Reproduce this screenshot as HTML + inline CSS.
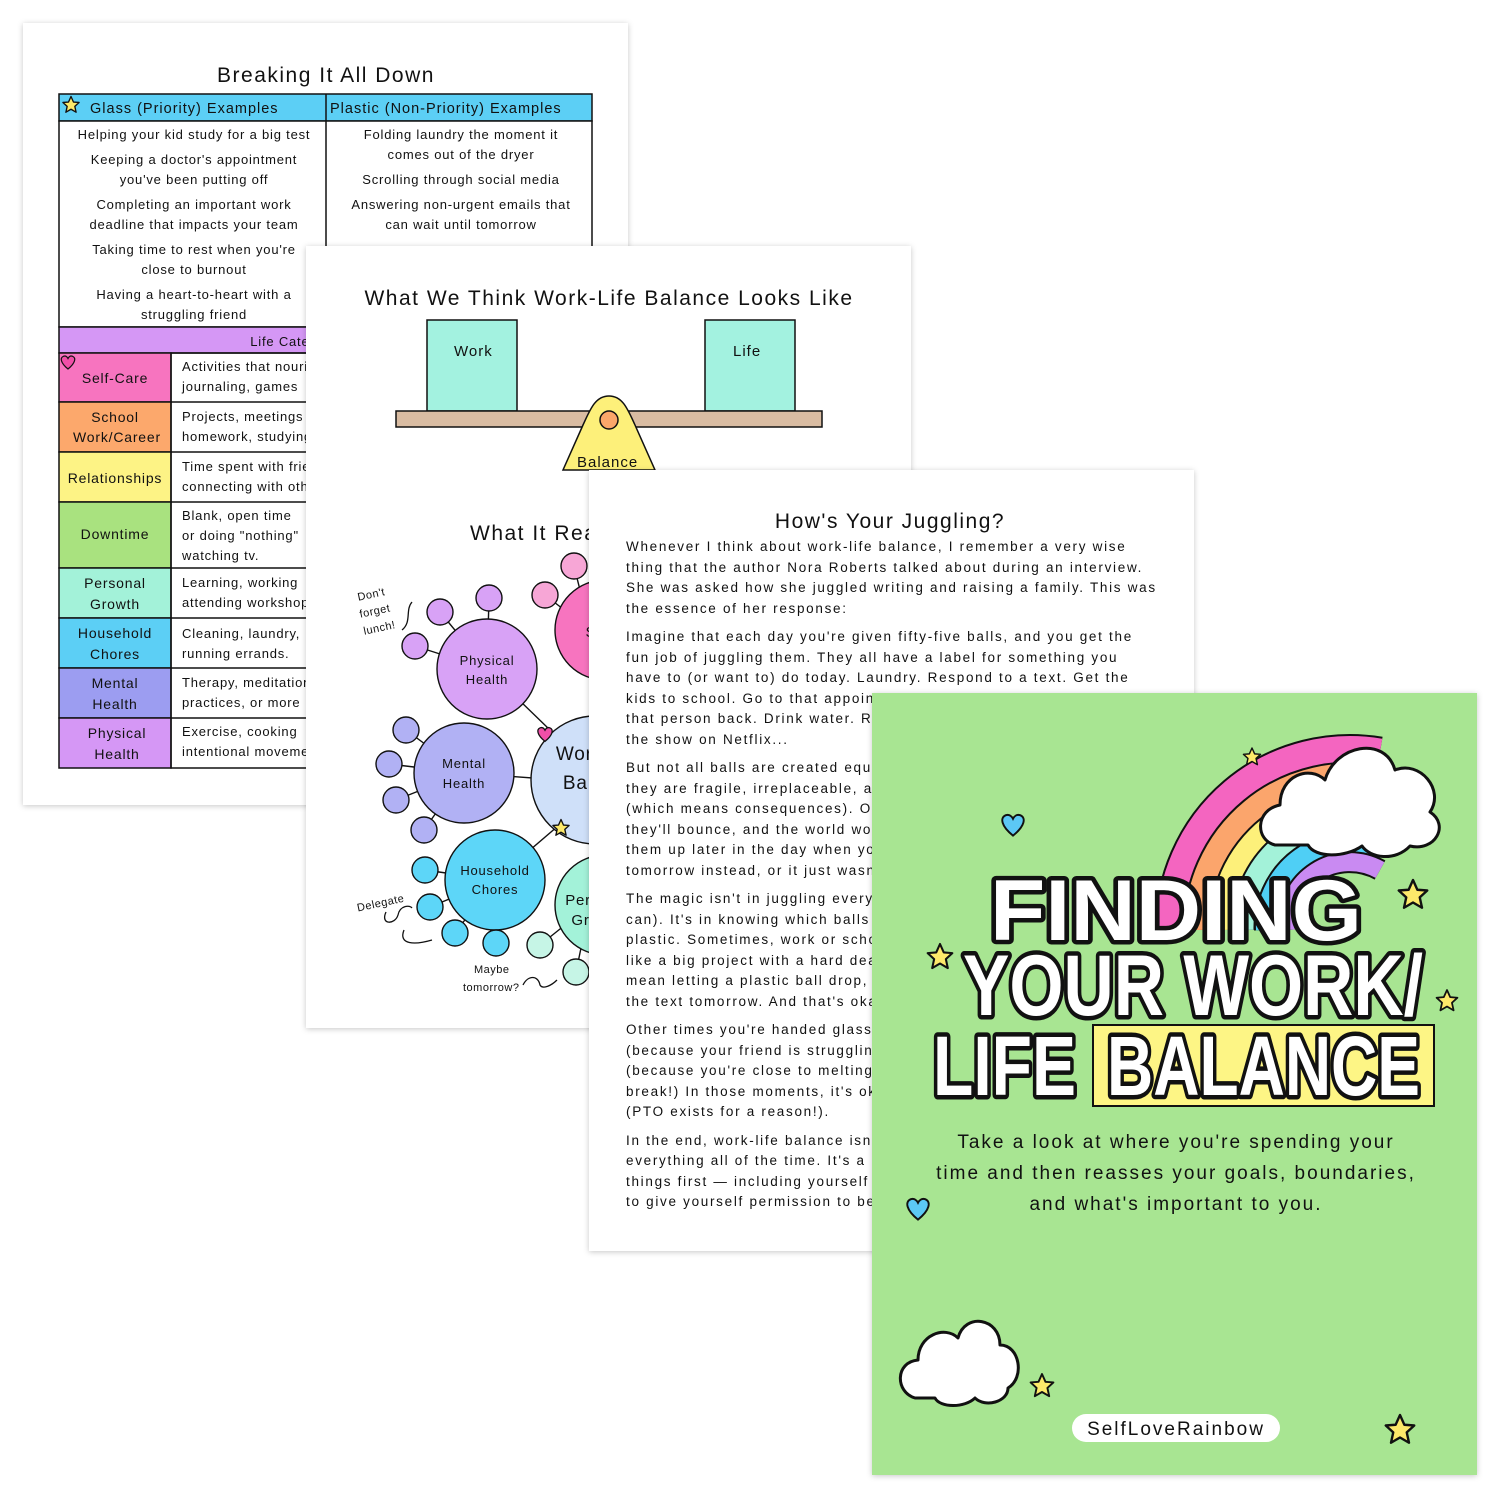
<!DOCTYPE html>
<html><head><meta charset="utf-8"><style>
html,body{margin:0;padding:0;background:#fff;}
svg{display:block;font-family:"Liberation Sans",sans-serif;}
</style></head><body>
<svg width="1500" height="1500" viewBox="0 0 1500 1500" xmlns="http://www.w3.org/2000/svg">
<defs>
<filter id="sh" x="-5%" y="-5%" width="110%" height="110%"><feDropShadow dx="0" dy="1" stdDeviation="3" flood-color="#000" flood-opacity="0.22"/></filter>
<g id="star"><path d="M0,-10 L2.9,-3.5 L9.5,-3 L4.5,1.6 L6,8.5 L0,5 L-6,8.5 L-4.5,1.6 L-9.5,-3 L-2.9,-3.5 Z" fill="#fde96a" stroke="#111" stroke-width="1.6" stroke-linejoin="round"/></g>
<g id="heart"><path d="M0,8 C-10,0 -11,-7 -6,-9 C-3,-10 -1,-8 0,-6 C1,-8 3,-10 6,-9 C11,-7 10,0 0,8Z" stroke="#111" stroke-width="1.6"/></g>
</defs>

<!-- PAGE 1 -->
<rect x="23" y="23" width="605" height="782" fill="#fff" filter="url(#sh)"/>
<text x="326" y="82" font-size="21" text-anchor="middle" letter-spacing="1.5" fill="#111">Breaking It All Down</text>
<g stroke="#111" stroke-width="1.5">
<rect x="59" y="94" width="533" height="27" fill="#5ccff5"/>
<rect x="59" y="121" width="533" height="206" fill="#fff"/>
<line x1="326" y1="94" x2="326" y2="327"/>
<rect x="59" y="327" width="533" height="26" fill="#d597f5"/>
<rect x="59" y="353" width="112" height="49" fill="#f774bf"/>
<rect x="59" y="402" width="112" height="50" fill="#fca86c"/>
<rect x="59" y="452" width="112" height="50" fill="#fdf385"/>
<rect x="59" y="502" width="112" height="66" fill="#a9e27f"/>
<rect x="59" y="568" width="112" height="50" fill="#a3f2d9"/>
<rect x="59" y="618" width="112" height="50" fill="#5ccff5"/>
<rect x="59" y="668" width="112" height="50" fill="#9c9df1"/>
<rect x="59" y="718" width="112" height="50" fill="#d597f5"/>
<rect x="171" y="353" width="421" height="415" fill="none"/>
<line x1="171" y1="402" x2="592" y2="402"/><line x1="171" y1="452" x2="592" y2="452"/>
<line x1="171" y1="502" x2="592" y2="502"/><line x1="171" y1="568" x2="592" y2="568"/>
<line x1="171" y1="618" x2="592" y2="618"/><line x1="171" y1="668" x2="592" y2="668"/>
<line x1="171" y1="718" x2="592" y2="718"/>
</g>
<use href="#star" transform="translate(71,105) scale(0.85)"/>
<use href="#heart" transform="translate(68,363) scale(0.75)" fill="#f04fa8"/>
<g font-size="14.5" fill="#111" letter-spacing="1">
<text x="90" y="113">Glass (Priority) Examples</text>
<text x="330" y="113">Plastic (Non-Priority) Examples</text>
</g>
<g font-size="13" fill="#111" text-anchor="middle" letter-spacing="0.8">
<text x="194" y="139">Helping your kid study for a big test</text>
<text x="194" y="164">Keeping a doctor's appointment</text>
<text x="194" y="184">you've been putting off</text>
<text x="194" y="209">Completing an important work</text>
<text x="194" y="229">deadline that impacts your team</text>
<text x="194" y="254">Taking time to rest when you're</text>
<text x="194" y="274">close to burnout</text>
<text x="194" y="299">Having a heart-to-heart with a</text>
<text x="194" y="319">struggling friend</text>
<text x="461" y="139">Folding laundry the moment it</text>
<text x="461" y="159">comes out of the dryer</text>
<text x="461" y="184">Scrolling through social media</text>
<text x="461" y="209">Answering non-urgent emails that</text>
<text x="461" y="229">can wait until tomorrow</text>
<text x="300" y="346">Life Categories</text>
</g>
<g font-size="14" fill="#111" text-anchor="middle" letter-spacing="0.8">
<text x="115" y="383">Self-Care</text>
<text x="115" y="422">School</text><text x="117" y="442">Work/Career</text>
<text x="115" y="483">Relationships</text>
<text x="115" y="539">Downtime</text>
<text x="115" y="588">Personal</text><text x="115" y="609">Growth</text>
<text x="115" y="638">Household</text><text x="115" y="659">Chores</text>
<text x="115" y="688">Mental</text><text x="115" y="709">Health</text>
<text x="117" y="738">Physical</text><text x="117" y="759">Health</text>
</g>
<g font-size="13" fill="#111" letter-spacing="0.8">
<text x="182" y="371">Activities that nourish you like</text><text x="182" y="391">journaling, games</text>
<text x="182" y="421">Projects, meetings</text><text x="182" y="441">homework, studying</text>
<text x="182" y="471">Time spent with friends</text><text x="182" y="491">connecting with others</text>
<text x="182" y="520">Blank, open time</text><text x="182" y="540">or doing "nothing"</text><text x="182" y="560">watching tv.</text>
<text x="182" y="587">Learning, working</text><text x="182" y="607">attending workshops</text>
<text x="182" y="638">Cleaning, laundry,</text><text x="182" y="658">running errands.</text>
<text x="182" y="687">Therapy, meditation</text><text x="182" y="707">practices, or more</text>
<text x="182" y="736">Exercise, cooking</text><text x="182" y="756">intentional movement</text>
</g>

<!-- PAGE 2 -->
<rect x="306" y="246" width="605" height="782" fill="#fff" filter="url(#sh)"/>
<text x="609" y="305" font-size="21" text-anchor="middle" letter-spacing="1.5" fill="#111">What We Think Work-Life Balance Looks Like</text>
<g stroke="#111" stroke-width="1.5">
<rect x="427" y="320" width="90" height="91" fill="#a3f2e0"/>
<rect x="705" y="320" width="90" height="91" fill="#a3f2e0"/>
<rect x="396" y="411" width="426" height="16" fill="#d9bca2"/>
<path d="M609,396 C595,396 590,410 583,425 L563,470 L655,470 L635,425 C628,410 623,396 609,396Z" fill="#fdf07a"/>
<circle cx="609" cy="420" r="9" fill="#fba76a"/>
</g>
<g font-size="15" fill="#111" letter-spacing="1">
<text x="454" y="356">Work</text><text x="733" y="356">Life</text>
<text x="577" y="467">Balance</text>
</g>
<text x="470" y="540" font-size="21" letter-spacing="1.5" fill="#111">What It Really Looks Like</text>
<!-- mind map -->
<g stroke="#111" stroke-width="1.4">
<line x1="487" y1="669" x2="489" y2="598"/><line x1="487" y1="669" x2="440" y2="612"/><line x1="487" y1="669" x2="415" y2="646"/>
<line x1="487" y1="669" x2="550" y2="730"/>
<line x1="464" y1="773" x2="406" y2="730"/><line x1="464" y1="773" x2="389" y2="764"/><line x1="464" y1="773" x2="396" y2="800"/><line x1="464" y1="773" x2="424" y2="830"/>
<line x1="464" y1="773" x2="560" y2="780"/>
<line x1="495" y1="880" x2="425" y2="870"/><line x1="495" y1="880" x2="430" y2="907"/><line x1="495" y1="880" x2="455" y2="933"/><line x1="495" y1="880" x2="496" y2="943"/>
<line x1="495" y1="880" x2="565" y2="820"/>
<line x1="590" y1="630" x2="574" y2="566"/><line x1="590" y1="630" x2="545" y2="595"/>
<line x1="590" y1="905" x2="540" y2="945"/><line x1="590" y1="905" x2="576" y2="972"/>
<circle cx="595" cy="780" r="64" fill="#cfe0f9"/>
<circle cx="605" cy="630" r="50" fill="#f774bf"/>
<circle cx="605" cy="905" r="50" fill="#a3f2d9"/>
<circle cx="487" cy="669" r="50" fill="#d8a2f6"/>
<circle cx="464" cy="773" r="50" fill="#b1b1f4"/>
<circle cx="495" cy="880" r="50" fill="#5dd6f8"/>
<g fill="#d8a2f6"><circle cx="489" cy="598" r="13"/><circle cx="440" cy="612" r="13"/><circle cx="415" cy="646" r="13"/></g>
<g fill="#b1b1f4"><circle cx="406" cy="730" r="13"/><circle cx="389" cy="764" r="13"/><circle cx="396" cy="800" r="13"/><circle cx="424" cy="830" r="13"/></g>
<g fill="#5dd6f8"><circle cx="425" cy="870" r="13"/><circle cx="430" cy="907" r="13"/><circle cx="455" cy="933" r="13"/><circle cx="496" cy="943" r="13"/></g>
<g fill="#f7a6d6"><circle cx="574" cy="566" r="13"/><circle cx="545" cy="595" r="13"/></g>
<g fill="#c6f5e6"><circle cx="540" cy="945" r="13"/><circle cx="576" cy="972" r="13"/></g>
</g>
<use href="#heart" transform="translate(545,735) scale(0.8)" fill="#f04fa8"/>
<use href="#star" transform="translate(561,828) scale(0.85)"/>
<g font-size="13" fill="#111" text-anchor="middle" letter-spacing="0.8">
<text x="487" y="665">Physical</text><text x="487" y="684">Health</text>
<text x="464" y="768">Mental</text><text x="464" y="788">Health</text>
<text x="495" y="875">Household</text><text x="495" y="894">Chores</text>
<text x="600" y="637" font-size="15">Self</text>
<text x="600" y="760" font-size="19">Work-Life</text><text x="600" y="789" font-size="19">Balance</text>
<text x="598" y="905" font-size="15">Personal</text><text x="598" y="925" font-size="15">Growth</text>
</g>
<g font-size="11" fill="#111" letter-spacing="0.5">
<text x="358" y="597" transform="rotate(-12 376 597)">Don't</text>
<text x="360" y="614" transform="rotate(-12 378 614)">forget</text>
<text x="364" y="631" transform="rotate(-12 382 631)">lunch!</text>
<text x="356" y="906" transform="rotate(-12 383 900)">Delegate</text>
<text x="474" y="973">Maybe</text><text x="463" y="991">tomorrow?</text>
</g>
<g fill="none" stroke="#111" stroke-width="1.3">
<path d="M402,630 C412,622 405,610 412,602"/>
<path d="M386,912 C380,925 395,925 398,915 C400,905 410,905 412,908"/>
<path d="M404,930 C398,945 415,945 432,940"/>
<path d="M523,985 C528,975 538,975 540,985 C543,990 552,985 557,980"/>
</g>

<!-- PAGE 3 -->
<rect x="589" y="470" width="605" height="781" fill="#fff" filter="url(#sh)"/>
<text x="890" y="528" font-size="21" text-anchor="middle" letter-spacing="1.5" fill="#111">How's Your Juggling?</text>
<g font-size="13.5" fill="#111" letter-spacing="1.7">
<text x="626" y="551">Whenever I think about work-life balance, I remember a very wise</text>
<text x="626" y="572">thing that the author Nora Roberts talked about during an interview.</text>
<text x="626" y="592">She was asked how she juggled writing and raising a family. This was</text>
<text x="626" y="613">the essence of her response:</text>
<text x="626" y="641">Imagine that each day you're given fifty-five balls, and you get the</text>
<text x="626" y="662">fun job of juggling them. They all have a label for something you</text>
<text x="626" y="682">have to (or want to) do today. Laundry. Respond to a text. Get the</text>
<text x="626" y="703">kids to school. Go to that appointment. Call</text>
<text x="626" y="723">that person back. Drink water. Re</text>
<text x="626" y="744">the show on Netflix...</text>
<text x="626" y="772">But not all balls are created equal.</text>
<text x="626" y="793">they are fragile, irreplaceable, and</text>
<text x="626" y="813">(which means consequences). Others</text>
<text x="626" y="834">they'll bounce, and the world won't</text>
<text x="626" y="854">them up later in the day when you</text>
<text x="626" y="875">tomorrow instead, or it just wasn't</text>
<text x="626" y="903">The magic isn't in juggling every</text>
<text x="626" y="924">can). It's in knowing which balls</text>
<text x="626" y="944">plastic. Sometimes, work or school</text>
<text x="626" y="965">like a big project with a hard deadline</text>
<text x="626" y="985">mean letting a plastic ball drop,</text>
<text x="626" y="1006">the text tomorrow. And that's okay</text>
<text x="626" y="1034">Other times you're handed glass</text>
<text x="626" y="1055">(because your friend is struggling</text>
<text x="626" y="1075">(because you're close to melting</text>
<text x="626" y="1096">break!) In those moments, it's ok</text>
<text x="626" y="1116">(PTO exists for a reason!).</text>
<text x="626" y="1145">In the end, work-life balance isn't</text>
<text x="626" y="1165">everything all of the time. It's a</text>
<text x="626" y="1186">things first — including yourself</text>
<text x="626" y="1206">to give yourself permission to be</text>
</g>

<!-- PAGE 4 COVER -->
<rect x="872" y="693" width="605" height="782" fill="#a8e592" filter="url(#sh)"/>
<g fill="none" stroke-linecap="butt">
<path d="M1170,930 A180,180 0 0 1 1380,752" stroke="#111" stroke-width="31"/>
<path d="M1170,930 A180,180 0 0 1 1380,752" stroke="#f465c0" stroke-width="27"/>
<path d="M1196,930 A154,154 0 0 1 1380,778" stroke="#111" stroke-width="27"/>
<path d="M1196,930 A154,154 0 0 1 1380,778" stroke="#fba56c" stroke-width="23"/>
<path d="M1220,930 A130,130 0 0 1 1380,802" stroke="#111" stroke-width="25"/>
<path d="M1220,930 A130,130 0 0 1 1380,802" stroke="#fdf07a" stroke-width="21"/>
<path d="M1243,930 A107,107 0 0 1 1380,825" stroke="#111" stroke-width="25"/>
<path d="M1243,930 A107,107 0 0 1 1380,825" stroke="#a3f2d9" stroke-width="21"/>
<path d="M1266,930 A84,84 0 0 1 1380,848" stroke="#111" stroke-width="24"/>
<path d="M1266,930 A84,84 0 0 1 1380,848" stroke="#4fcff5" stroke-width="20"/>
<path d="M1288,930 A62,62 0 0 1 1380,870" stroke="#111" stroke-width="22"/>
<path d="M1288,930 A62,62 0 0 1 1380,870" stroke="#c98af2" stroke-width="18"/>
</g>
<path d="M1275,845 C1255,840 1255,810 1280,805 C1280,775 1310,765 1325,780 C1335,745 1385,735 1395,770 C1420,760 1445,790 1430,812 C1450,825 1435,852 1410,846 C1395,862 1370,858 1362,846 C1345,858 1315,858 1308,845 Z" fill="#fff" stroke="#111" stroke-width="3" stroke-linejoin="round"/>
<path d="M915,1398 C895,1392 895,1362 918,1360 C918,1335 945,1325 958,1338 C965,1312 1000,1318 1000,1345 C1020,1345 1025,1378 1008,1388 C1008,1402 985,1408 975,1398 C965,1408 940,1408 935,1398 Z" fill="#fff" stroke="#111" stroke-width="3" stroke-linejoin="round"/>
<g font-weight="bold" fill="#fff" stroke="#111" stroke-width="9" stroke-linejoin="round" paint-order="stroke" font-size="86">
<text x="990" y="940" textLength="372" lengthAdjust="spacingAndGlyphs">FINDING</text>
<text x="963" y="1015" textLength="460" lengthAdjust="spacingAndGlyphs">YOUR WORK/</text>
</g>
<rect x="1093" y="1025" width="341" height="81" fill="#fdf585" stroke="#111" stroke-width="2"/>
<g font-weight="bold" fill="#fff" stroke="#111" stroke-width="9" stroke-linejoin="round" paint-order="stroke" font-size="84">
<text x="933" y="1095" textLength="143" lengthAdjust="spacingAndGlyphs">LIFE</text>
<text x="1107" y="1095" textLength="313" lengthAdjust="spacingAndGlyphs">BALANCE</text>
</g>
<g font-size="19" fill="#111" text-anchor="middle" letter-spacing="2">
<text x="1176" y="1148">Take a look at where you're spending your</text>
<text x="1176" y="1179">time and then reasses your goals, boundaries,</text>
<text x="1176" y="1210">and what's important to you.</text>
</g>
<rect x="1072" y="1414" width="208" height="28" rx="14" fill="#fff"/>
<text x="1176" y="1435" font-size="19" text-anchor="middle" letter-spacing="2" fill="#111">SelfLoveRainbow</text>
<use href="#star" transform="translate(1252,757) scale(0.9)"/>
<use href="#star" transform="translate(1413,895) scale(1.5)"/>
<use href="#star" transform="translate(940,957) scale(1.3)"/>
<use href="#star" transform="translate(1447,1001) scale(1.1)"/>
<use href="#star" transform="translate(1042,1386) scale(1.2)"/>
<use href="#star" transform="translate(1400,1430) scale(1.5)"/>
<use href="#heart" transform="translate(1013,826) scale(1.2)" fill="#5cc8f5"/>
<use href="#heart" transform="translate(918,1210) scale(1.2)" fill="#5cc8f5"/>
</svg>
</body></html>
